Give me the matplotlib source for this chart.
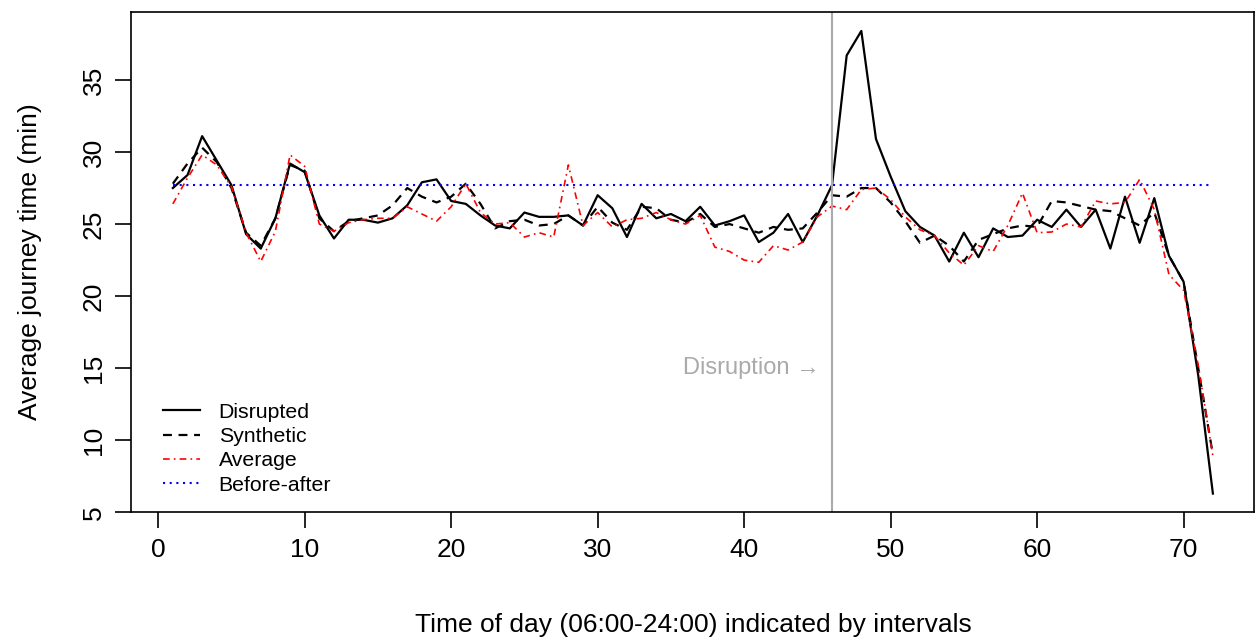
import numpy as np
import matplotlib
matplotlib.use("Agg")
import matplotlib.pyplot as plt

plt.rcParams["font.family"] = ["Liberation Sans", "DejaVu Sans"]

# intervals 1..72 (06:00-24:00)
intervals = list(range(1, 73))

disrupted = [27.5, 28.4, 31.1, 29.4, 27.7, 24.3, 23.3, 25.4, 29.2, 28.6,
             25.6, 24.0, 25.3, 25.3, 25.1, 25.4, 26.3, 27.9, 28.1, 26.6,
             26.4, 25.6, 24.9, 24.7, 25.8, 25.5, 25.5, 25.6, 24.9, 27.0,
             26.1, 24.1, 26.4, 25.4, 25.7, 25.2, 26.2, 24.9, 25.2, 25.6,
             23.75, 24.4, 25.7, 23.75, 25.6, 27.7, 36.7, 38.4, 30.9, 28.3,
             25.9, 24.8, 24.2, 22.4, 24.4, 22.7, 24.7, 24.1, 24.2, 25.3,
             24.8, 26.0, 24.8, 26.0, 23.3, 26.9, 23.7, 26.8, 22.8, 21.0,
             14.5, 6.3]

synthetic = [27.8, 29.2, 30.3, 29.3, 27.5, 24.4, 23.5, 25.4, 29.1, 28.7,
             25.4, 24.5, 25.2, 25.4, 25.6, 26.3, 27.5, 26.9, 26.5, 26.9,
             27.8, 26.4, 24.7, 25.2, 25.3, 24.9, 25.0, 25.6, 24.9, 26.2,
             25.1, 24.6, 26.2, 26.1, 25.3, 25.1, 25.7, 24.8, 25.0, 24.7,
             24.4, 24.8, 24.6, 24.7, 25.8, 27.0, 26.9, 27.5, 27.5, 26.5,
             25.2, 23.7, 24.2, 23.5, 22.4, 23.9, 24.3, 24.7, 24.9, 24.8,
             26.6, 26.5, 26.25, 26.0, 25.9, 25.4, 24.9, 25.8, 22.8, 21.0,
             15.0, 9.0]

average = [26.4, 28.2, 29.8, 29.1, 27.6, 24.4, 22.4, 24.5, 29.8, 29.0,
           25.0, 24.5, 25.1, 25.3, 25.4, 25.4, 26.2, 25.7, 25.2, 26.2,
           27.8, 25.8, 25.0, 25.1, 24.1, 24.4, 24.1, 29.1, 24.9, 25.8,
           24.8, 25.3, 25.4, 25.8, 25.3, 25.0, 25.6, 23.4, 23.1, 22.5,
           22.35, 23.5, 23.2, 23.75, 25.5, 26.25, 26.0, 27.4, 27.5, 26.7,
           25.5, 24.6, 24.2, 23.0, 22.15, 23.5, 23.1, 24.9, 27.15, 24.4,
           24.45, 25.0, 24.8, 26.6, 26.4, 26.5, 28.1, 26.0, 21.5, 20.4,
           15.2, 8.9]

before_after = 27.7
disruption_at = 46

fig = plt.figure(figsize=(12.56, 6.42), dpi=100)
ax = fig.add_axes([0.1045, 0.202, 0.8943, 0.779])

ax.plot(intervals, disrupted, color="black", lw=1.6, label="Disrupted")
ax.plot(intervals, synthetic, color="black", lw=1.6, ls=(0, (4, 3)), label="Synthetic")
ax.plot(intervals, average, color="red", lw=1.2, ls=(0, (4, 2.5, 1, 2.5)), label="Average")
ax.plot([intervals[0], intervals[-1]], [before_after, before_after],
        color="blue", lw=1.5, ls=(0, (1, 2.2)), label="Before-after")
ax.axvline(disruption_at, color="#aaaaaa", lw=1.5)
ax.text(disruption_at - 0.85, 15, "Disruption \u2192", color="#aaaaaa",
        fontsize=17, ha="right", va="center")

ax.set_xlim(-1.84, 74.84)
ax.set_ylim(5.0, 39.7)
ax.set_xticks(range(0, 71, 10))
ax.set_yticks(range(5, 36, 5))
ax.tick_params(labelsize=19, length=11.5, width=1.2, pad=7)
for lab in ax.get_yticklabels():
    lab.set_rotation(90)
    lab.set_va("center")
for s in ax.spines.values():
    s.set_linewidth(1.2)

fig.text(0.0239, 0.592, "Average journey time (min)", rotation=90,
         ha="center", va="center", fontsize=19)
fig.text(0.552, 1 - 625 / 642, "Time of day (06:00-24:00) indicated by intervals",
         ha="center", va="center", fontsize=19)

ax.legend(loc="lower left", bbox_to_anchor=(0.028, 0.035), frameon=False,
          fontsize=15.3, handlelength=1.75, handletextpad=0.88,
          labelspacing=0.25, borderpad=0, borderaxespad=0)

fig.savefig("out.png", dpi=100)
